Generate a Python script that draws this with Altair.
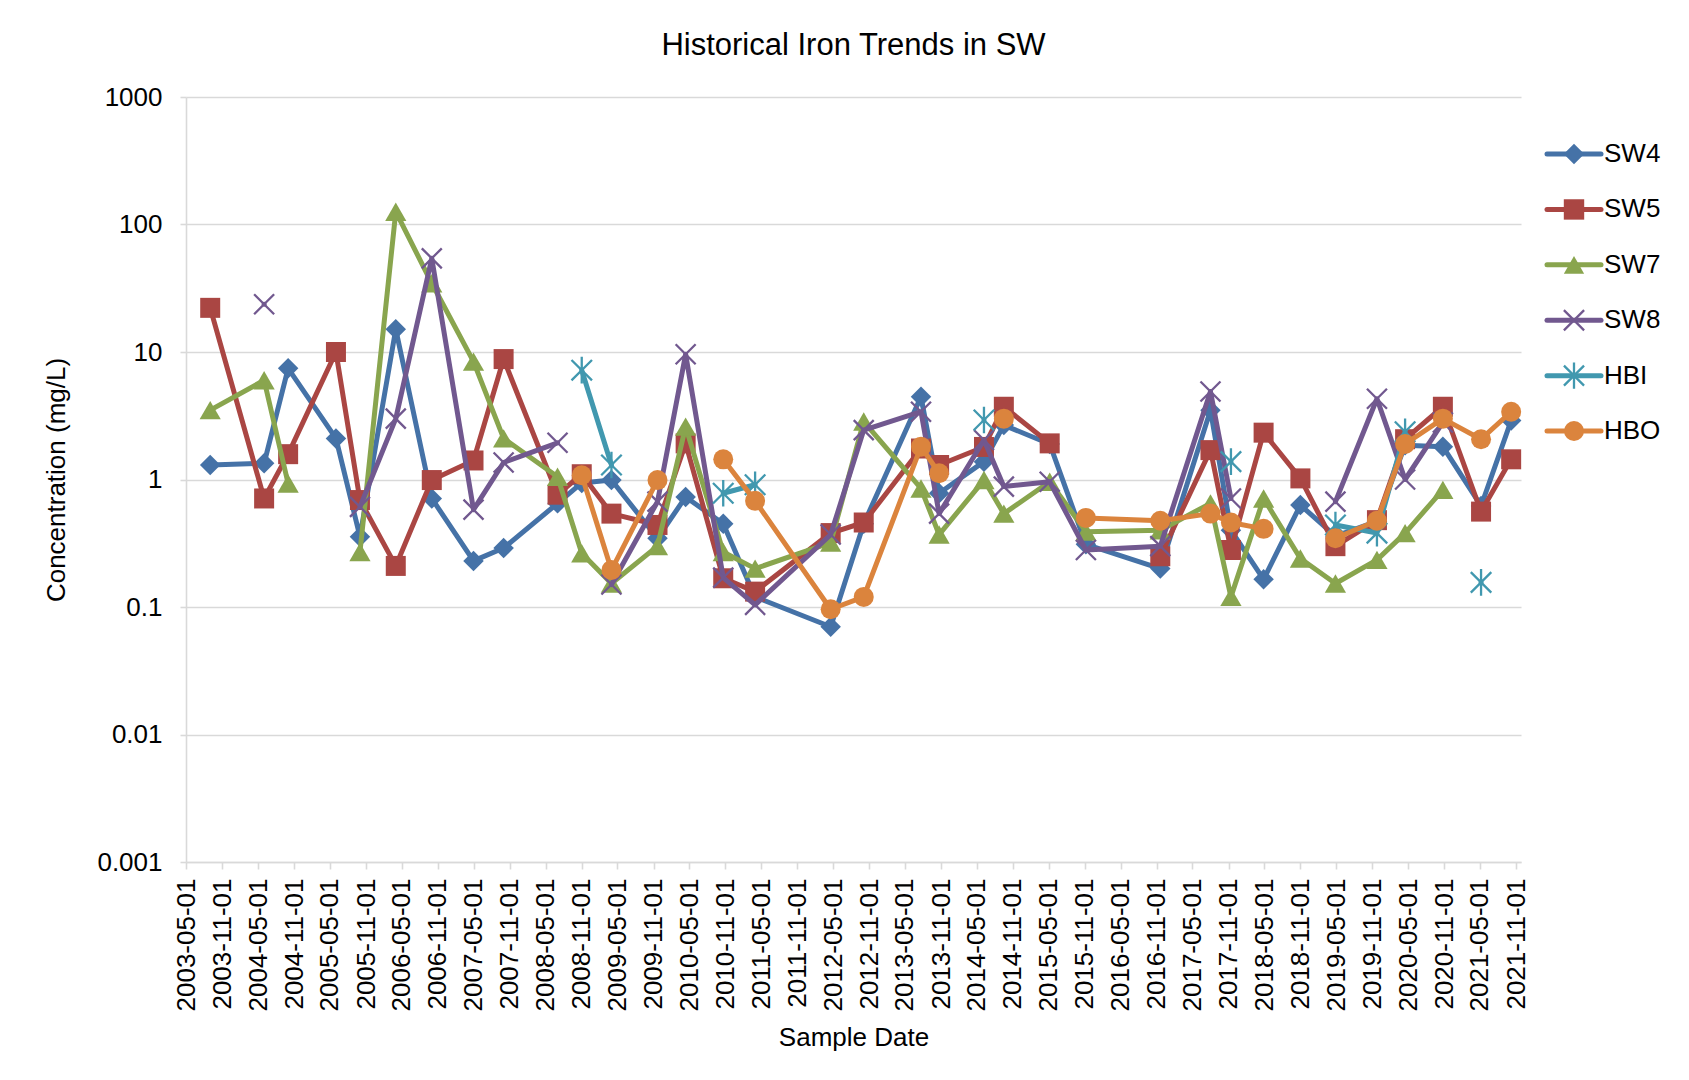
import altair as alt
import pandas as pd

# ---------------- data ----------------
dates = [
    "2003-09-01", "2004-06-01", "2004-10-01", "2005-06-01", "2005-10-01",
    "2006-04-01", "2006-10-01", "2007-05-01", "2007-10-01", "2008-07-01",
    "2008-11-01", "2009-04-01", "2009-11-21", "2010-04-13", "2010-10-21",
    "2011-04-01", "2012-04-19", "2012-10-04", "2013-07-22", "2013-10-22",
    "2014-06-07", "2014-09-16", "2015-05-07", "2015-11-07", "2016-11-19",
    "2017-08-01", "2017-11-13", "2018-04-28", "2018-11-01", "2019-04-28",
    "2019-11-25", "2020-04-16", "2020-10-25", "2021-05-07", "2021-10-07",
]

series_names = ["SW4", "SW5", "SW7", "SW8", "HBI", "HBO"]

sw4 = [1.30, 1.34, 7.45, 2.1, 0.356, 15.1, 0.71, 0.23, 0.29, 0.65,
       0.94, 0.99, 0.346, 0.73, 0.45, 0.12, 0.070, 0.45, 4.46, 0.78,
       1.38, 2.67, 1.9, 0.31, 0.20, 3.5, 0.40, 0.165, 0.63, 0.36,
       0.47, 1.86, 1.81, 0.62, 2.9]
sw5 = [22.2, 0.71, 1.58, 10.0, 0.69, 0.21, 0.99, 1.41, 8.8, 0.76,
       1.10, 0.54, 0.44, 1.92, 0.168, 0.132, 0.38, 0.46, 1.75, 1.30,
       1.8, 3.72, 1.92, None, 0.25, 1.70, 0.28, 2.33, 1.02, 0.30,
       0.48, 2.07, 3.72, 0.56, 1.44]
sw7 = [3.5, 6.0, 0.93, None, 0.27, 126.0, 34.6, 8.4, 2.1, 1.05,
       0.264, 0.153, 0.30, 2.6, 0.27, 0.20, 0.32, 2.85, 0.85, 0.37,
       0.99, 0.54, 0.96, 0.39, 0.40, 0.65, 0.12, 0.71, 0.24, 0.153,
       0.234, 0.38, 0.83, None, None]
sw8 = [None, 23.7, None, None, 0.61, 3.0, 54.3, 0.58, 1.36, 1.94,
       None, 0.15, 0.67, 9.6, 0.17, 0.104, 0.37, 2.44, 3.4, 0.54,
       2.04, 0.88, 0.96, 0.28, 0.30, 4.9, 0.71, None, None, 0.67,
       4.3, 1.0, 2.8, None, None]
hbi = [None, None, None, None, None, None, None, None, None, None,
       7.2, 1.30, None, None, 0.78, 0.91, None, None, None, None,
       2.93, None, None, None, None, None, 1.38, None, None, 0.44,
       0.38, 2.37, None, 0.156, None]
hbo = [None, None, None, None, None, None, None, None, None, None,
       1.08, 0.195, 0.99, None, 1.44, 0.68, 0.096, 0.12, 1.81, 1.12,
       None, 3.0, None, 0.50, 0.475, 0.54, 0.46, 0.41, None, 0.346,
       0.475, 1.90, 3.0, 2.07, 3.4]

y_ticks = [0.001, 0.01, 0.1, 1, 10, 100, 1000]

# ---------------- styling ----------------
colors = ["#4572A7", "#AA4643", "#89A54E", "#71588F", "#4198AF", "#DB843D"]
X_PATH = "M-1,-1L1,1M-1,1L1,-1"
STAR_PATH = "M-1,-1L1,1M-1,1L1,-1M0,-1.3L0,1.3"
shapes = ["diamond", "square", "triangle-up", X_PATH, STAR_PATH, "circle"]
filled = [True, True, True, False, False, True]
sizes = [420, 400, 450, 400, 420, 400]
FONT = "Liberation Sans"
GRID = "#d9d9d9"

# long table with a segment id so that blanks break the line
rows = []
for name, vals in zip(series_names, [sw4, sw5, sw7, sw8, hbi, hbo]):
    seg = 0
    for d, v in zip(dates, vals):
        if v is None:
            seg += 1
            continue
        rows.append({"series": name, "date": d, "value": v, "seg": f"{name}-{seg}"})
df = pd.DataFrame(rows)

tick_dates = []
for yr in range(2003, 2022):
    for mo in (5, 11):
        tick_dates.append(alt.DateTime(year=yr, month=mo, date=1, utc=True))

x_enc = alt.X(
    "date:T",
    title="Sample Date",
    scale=alt.Scale(type="utc", nice=False,
                    domain=[alt.DateTime(year=2003, month=5, date=1, utc=True),
                            alt.DateTime(year=2021, month=11, date=26, utc=True)]),
    axis=alt.Axis(values=tick_dates, labelExpr="utcFormat(datum.value, '%Y-%m-%d')",
                  labelAngle=-90, labelOverlap=False, labelFlush=False, grid=False,
                  domainColor=GRID, domainWidth=1.6, tickColor=GRID, tickWidth=1.6,
                  tickSize=7, labelPadding=9, labelFontSize=26, labelColor="black",
                  labelFont=FONT, titleFont=FONT, titleFontSize=26,
                  titleFontWeight="normal", titleColor="black", titlePadding=14),
)
y_enc = alt.Y(
    "value:Q",
    title="Concentration (mg/L)",
    scale=alt.Scale(type="log", domain=[0.001, 1000], nice=False),
    axis=alt.Axis(values=y_ticks, format="~g", grid=True, gridColor=GRID, gridWidth=1.6,
                  domainColor=GRID, domainWidth=1.6, tickColor=GRID, tickWidth=1.6,
                  tickSize=6, labelPadding=18, labelFontSize=26, labelColor="black",
                  labelFont=FONT, titleFont=FONT, titleFontSize=26,
                  titleFontWeight="normal", titleColor="black", titlePadding=27),
)

layers = []
for name, color, shp, fil, sz in zip(series_names, colors, shapes, filled, sizes):
    base = alt.Chart(df).transform_filter(alt.datum.series == name)
    line = base.mark_line(color=color, strokeWidth=5, strokeJoin="round",
                          strokeCap="round").encode(x=x_enc, y=y_enc, detail="seg:N")
    pt = base.mark_point(shape=shp, filled=fil, color=color, size=sz, opacity=1,
                         strokeWidth=2.3).encode(x=x_enc, y=y_enc)
    layers += [line, pt]

main = alt.layer(*layers).properties(
    width=1335, height=765,
    title=alt.TitleParams("Historical Iron Trends in SW", fontSize=31, font=FONT,
                          fontWeight="normal", color="black", anchor="middle", offset=22),
)

# ---------------- custom Excel-like legend ----------------
leg_df = pd.DataFrame({"series": series_names, "rank": list(range(len(series_names)))})
ly = alt.Y("rank:Q", scale=alt.Scale(domain=[-1.03, 12.78], reverse=True), axis=None)
lcolor = alt.Color("series:N", scale=alt.Scale(domain=series_names, range=colors), legend=None)
lshape = alt.Shape("series:N", scale=alt.Scale(domain=series_names, range=shapes), legend=None)
lsize = alt.Size("series:N", scale=alt.Scale(domain=series_names, range=sizes), legend=None)

lbase = alt.Chart(leg_df)
leg_rule = lbase.mark_rule(strokeWidth=5, strokeCap="round").encode(
    y=ly, x=alt.value(26), x2=alt.value(80), color=lcolor)
leg_fill = lbase.transform_filter(
    alt.FieldOneOfPredicate(field="series", oneOf=["SW4", "SW5", "SW7", "HBO"])
).mark_point(filled=True, opacity=1).encode(y=ly, x=alt.value(53), color=lcolor,
                                            shape=lshape, size=lsize)
leg_stroke = lbase.transform_filter(
    alt.FieldOneOfPredicate(field="series", oneOf=["SW8", "HBI"])
).mark_point(filled=False, opacity=1, strokeWidth=2.3).encode(
    y=ly, x=alt.value(53), color=lcolor, shape=lshape, size=lsize)
leg_text = lbase.mark_text(align="left", baseline="middle", fontSize=26, font=FONT,
                           color="black").encode(y=ly, x=alt.value(83), text="series:N")
legend = alt.layer(leg_rule, leg_fill, leg_stroke, leg_text).properties(width=150, height=765)

chart = alt.hconcat(main, legend, spacing=0, bounds="flush").properties(
    padding={"left": 35, "top": 22, "right": 3, "bottom": 5},
    background="white",
).configure_view(stroke=None)

chart.save("out.html", embed_options={"renderer": "svg", "actions": False})
